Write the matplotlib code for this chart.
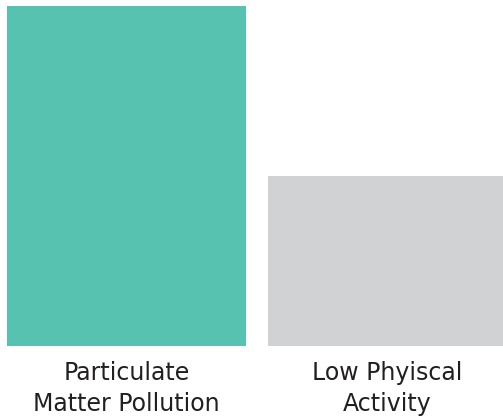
import matplotlib
matplotlib.use("Agg")
import matplotlib.pyplot as plt

categories = ["Particulate\nMatter Pollution", "Low Phyiscal\nActivity"]
values = [2.0, 1.0]
colors = ["#58C2B0", "#D1D2D4"]

W, H = 503, 419
fig = plt.figure(figsize=(W / 100, H / 100), dpi=100)
bottom_px = 73.5
ax = fig.add_axes([0, bottom_px / H, 1, (H - bottom_px) / H])

x = list(range(len(categories)))
ax.bar(x, values, width=0.9157, color=colors, linewidth=0)
ax.set_xlim(-0.4847, 1.4425)
ax.set_ylim(0, values[0] * (H - bottom_px) / 339.5)

ax.set_xticks(x)
ax.set_xticklabels(categories, fontsize=17, color="#231F20", family=["DejaVu Sans"],
                   linespacing=1.4)
ax.tick_params(axis="x", length=0, pad=11)
ax.set_yticks([])
for s in ax.spines.values():
    s.set_visible(False)

fig.savefig("out.png", dpi=100)
